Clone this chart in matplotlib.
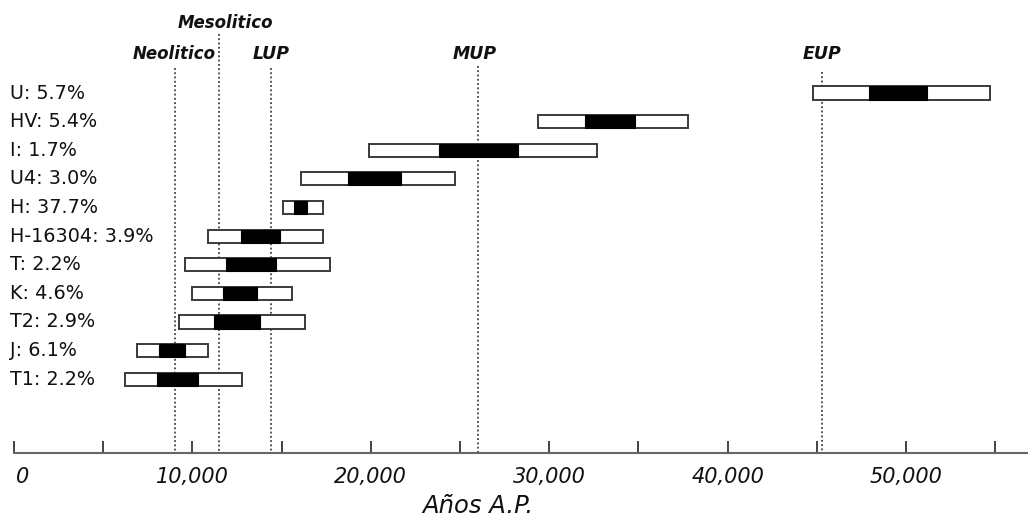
import numpy as np
import matplotlib
matplotlib.use("Agg")
import matplotlib.pyplot as plt
from matplotlib.transforms import blended_transform_factory, ScaledTranslation
from matplotlib.ticker import FuncFormatter

# haplogroups, top to bottom
labels = ["U: 5.7%", "HV: 5.4%", "I: 1.7%", "U4: 3.0%", "H: 37.7%",
          "H-16304: 3.9%", "T: 2.2%", "K: 4.6%", "T2: 2.9%", "J: 6.1%",
          "T1: 2.2%"]

# outer (white) range, years BP
outer_lo = [44800, 29400, 19900, 16100, 15100, 10900, 9600, 10000, 9250, 6900, 6200]
outer_hi = [54700, 37800, 32700, 24700, 17300, 17300, 17700, 15600, 16300, 10900, 12800]
# inner (black) range
inner_lo = [47900, 32000, 23800, 18700, 15700, 12700, 11900, 11700, 11200, 8100, 8000]
inner_hi = [51200, 34800, 28250, 21700, 16400, 14900, 14700, 13600, 13800, 9600, 10300]

# archaeological periods
periods = ["Neolitico", "Mesolitico", "LUP", "MUP", "EUP"]
period_x = [9000, 11500, 14400, 26000, 45300]

fig = plt.figure(figsize=(10.28, 5.2), dpi=100)
ax = fig.add_axes([14 / 1028, 67 / 520, 1014 / 1028, 453 / 520])

y = np.arange(len(labels))
h = 0.46
ax.barh(y, np.array(outer_hi) - np.array(outer_lo), left=outer_lo, height=h,
        color="white", edgecolor="#3a3a3a", linewidth=1.4, zorder=3)
ax.barh(y, np.array(inner_hi) - np.array(inner_lo), left=inner_lo, height=h,
        color="black", edgecolor="black", linewidth=0.8, zorder=4)

ax.set_xlim(0, 56840)
ax.set_ylim(12.58, -3.25)

# period lines and labels
tops = [-0.87, -2.05, -0.87, -0.95, -0.75]
label_y = [-1.35, -2.45, -1.35, -1.35, -1.35]
label_dx = [0, 350, 0, -200, 0]
for name, xp, t, ly, dx in zip(periods, period_x, tops, label_y, label_dx):
    ax.vlines(xp, t, 12.58, colors="#222222", linestyles=(0, (1.2, 1.6)),
              linewidth=1.1, zorder=2)
    big = name in ("LUP", "MUP", "EUP")
    ax.text(xp + dx, ly, name, ha="center", va="center", style="italic",
            weight="bold", fontsize=12.5 if big else 12, color="#111111")

# row labels
trans = blended_transform_factory(fig.transFigure, ax.transData)
for yi, lab in zip(y, labels):
    ax.text(10 / 1028, yi, lab, transform=trans, ha="left", va="center",
            fontsize=13.8, color="#111111", clip_on=False)

for s in ["top", "right", "left"]:
    ax.spines[s].set_visible(False)
ax.spines["bottom"].set_color("#666666")
ax.spines["bottom"].set_linewidth(1.5)
ax.set_yticks([])

ax.set_xticks(np.arange(0, 50001, 10000))
ax.set_xticks(np.arange(5000, 55001, 10000), minor=True)
ax.xaxis.set_major_formatter(FuncFormatter(lambda v, p: f"{int(v):,}"))
ax.tick_params(axis="x", which="both", direction="in", length=8.6, width=1.4,
               color="#444444", pad=10)
ax.tick_params(axis="x", which="major", labelsize=15)
for lab in ax.get_xticklabels():
    lab.set_style("italic")
    lab.set_color("#111111")
# the "0" sits a little right of its tick in the original
zero = ax.get_xticklabels()[0]
zero.set_transform(zero.get_transform() + ScaledTranslation(9 / 100, 0, fig.dpi_scale_trans))

ax.set_xlabel("Años A.P.", fontsize=17.5, style="italic", color="#111111")
ax.xaxis.set_label_coords((478 - 14) / 1014, -0.09)

fig.savefig("out.png", dpi=100)
